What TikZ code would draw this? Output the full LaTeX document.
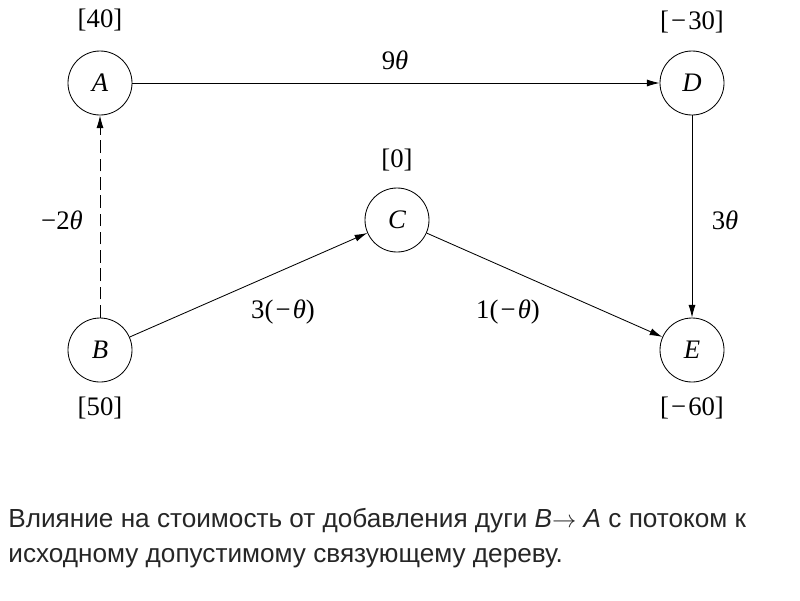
\documentclass[tikz,border=0pt]{standalone}
\usepackage{fontspec}
\setmainfont{Liberation Serif}
\newfontfamily\capfont{Liberation Sans}
\newcommand{\mns}{\kern1.5pt−\kern1.5pt}
\usetikzlibrary{arrows.meta}
\begin{document}
\begin{tikzpicture}[x=0.025cm, y=-0.025cm, line width=0.6pt, >={Latex[length=9pt,width=5pt]}]
  \tikzset{
    vert/.style={draw, circle, minimum size=64*0.025cm, inner sep=0pt, font=\fontsize{19}{21}\selectfont\itshape},
    lbl/.style={font=\fontsize{19}{21}\selectfont},
    captext/.style={font=\capfont\fontsize{18.6}{22}\selectfont, text=black!85, anchor=base west, inner sep=0pt}
  }
  \useasboundingbox (0,0) rectangle (800,600);
  \node[vert] (A) at (100,83) {A};
  \node[vert] (D) at (692,83) {D};
  \node[vert] (C) at (397,220) {C};
  \node[vert] (B) at (100,350) {B};
  \node[vert] (E) at (692,350) {E};
  \draw[->] (A) -- (D);
  \draw[->] (D) -- (E);
  \draw[->] (B) -- (C);
  \draw[->] (C) -- (E);
  \draw[->, dashed, dash pattern=on 9pt off 4pt] (B) -- (A);
  \node[lbl] (pA) at (100,20) {[40]};
  \node[lbl] (pD) at (692,22) {[\mns30]};
  \node[lbl] (pC) at (397,160) {[0]};
  \node[lbl] (pB) at (100,408) {[50]};
  \node[lbl] (pE) at (692,408) {[\mns60]};
  \node[lbl] (cAD) at (395,60) {9\textit{θ}};
  \node[lbl] (cBA) at (62,220) {−2\textit{θ}};
  \node[lbl] (cDE) at (725,220) {3\textit{θ}};
  \node[lbl] (cBC) at (283,312) {3(\mns\textit{θ})};
  \node[lbl] (cCE) at (508,312) {1(\mns\textit{θ})};
  \node[captext] (cap1) at (8,527) {Влияние на стоимость от добавления дуги {\itshape B}$\rightarrow$ {\itshape A} с потоком к};
  \node[captext] (cap2) at (8,562) {исходному допустимому связующему дереву.};
\end{tikzpicture}
\end{document}
